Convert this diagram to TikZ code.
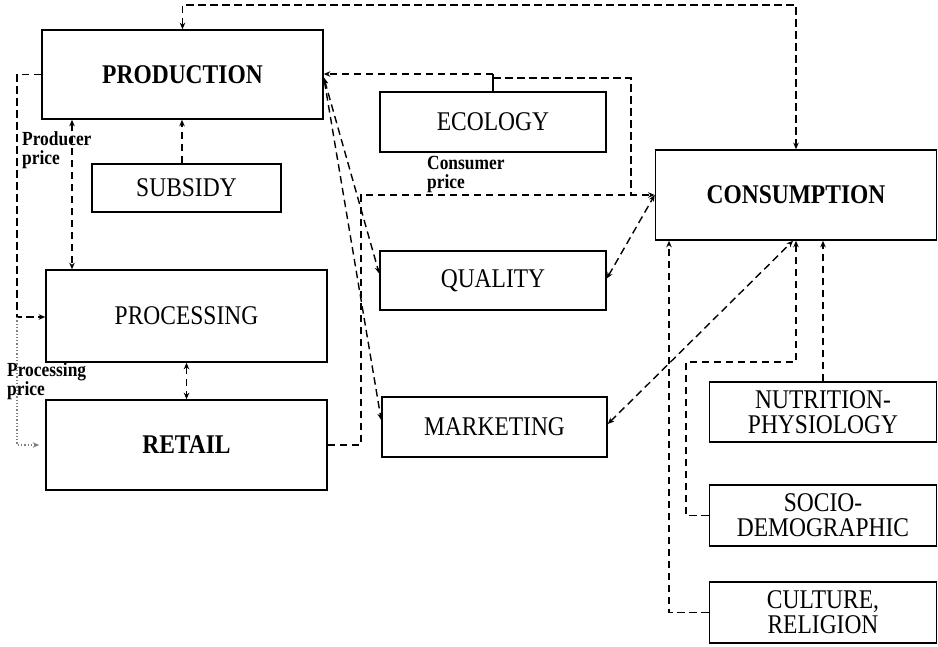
\documentclass[tikz,border=0pt]{standalone}
\usepackage{fontspec}
\setmainfont[FakeStretch=0.87]{Liberation Serif}
\usetikzlibrary{arrows.meta}
\begin{document}
\begin{tikzpicture}[x=1pt,y=-1pt,
  box/.style={draw,line width=1.6pt,inner sep=0pt,align=center,
    font=\fontsize{27}{25}\selectfont},
  bbox/.style={box,font=\fontsize{27}{25}\selectfont\bfseries},
  lbl/.style={inner sep=0pt,align=left,font=\fontsize{20}{19}\selectfont\bfseries},
  dl/.style={line width=1.4pt,dash pattern=on 7.5pt off 4.5pt,
    >={Stealth[length=6.5pt,width=5.5pt]}},
  dt/.style={line width=1.3pt,gray,dotted,>={Stealth[length=6.5pt,width=5.5pt]}}]
\useasboundingbox (0,0) rectangle (938,646);

% boxes
\node[bbox,minimum width=281pt,minimum height=89pt] (prod) at (182.5,74.5) {PRODUCTION};
\node[box,minimum width=189pt,minimum height=48pt] (subsidy) at (186.5,188) {SUBSIDY};
\node[box,minimum width=226pt,minimum height=60pt] (ecology) at (493,122) {ECOLOGY};
\node[bbox,minimum width=281pt,minimum height=90pt] (cons) at (796,195) {CONSUMPTION};
\node[box,minimum width=281pt,minimum height=92pt] (proc) at (186.5,316) {PROCESSING};
\node[bbox,minimum width=281pt,minimum height=90pt] (retail) at (186.5,445) {RETAIL};
\node[box,minimum width=226pt,minimum height=59pt] (quality) at (493,280.5) {QUALITY};
\node[box,minimum width=225pt,minimum height=60pt] (marketing) at (494.5,427) {MARKETING};
\node[box,minimum width=227pt,minimum height=60pt] (nutrition) at (823,412) {NUTRITION-\\PHYSIOLOGY};
\node[box,minimum width=227pt,minimum height=61pt] (socio) at (823,515.5) {SOCIO-\\DEMOGRAPHIC};
\node[box,minimum width=227pt,minimum height=61pt] (culture) at (823,612.5) {CULTURE,\\RELIGION};

% labels
\node[lbl,anchor=north west] (lprod) at (22,131) {Producer\\price};
\node[lbl,anchor=north west] (lcons) at (427,156) {Consumer\\price};
\node[lbl,anchor=north west] (lproc) at (7,362) {Processing\\price};

% helper coordinates
\coordinate (top) at (480,5);
\coordinate (lj) at (17,317);
\coordinate (ppx) at (72,200);
\coordinate (sbx) at (182,150);
\coordinate (et) at (493,74);
\coordinate (er) at (493,78);
\coordinate (ej) at (631,195);
\coordinate (cpx) at (361,195);
\coordinate (sj) at (686,362);
\coordinate (cx) at (669,600);

% production <-> consumption across the top
\draw[dl,<->] (prod.north) |- (top) -| (cons.north);
% production to processing and retail on the left
\draw[dl,->] (prod.west) -| (lj) -- (lj -| proc.west);
\draw[dt,->,shorten >=6pt] (lj) |- (retail.west);
% producer price
\draw[dl,<->] (ppx |- prod.south) -- (ppx |- proc.north);
% subsidy
\draw[dl,->] (sbx |- subsidy.north) -- (sbx |- prod.south);
% ecology
\draw[line width=1.3pt] (ecology.north) -- (et);
\draw[dl,->] (et) -- (et -| prod.east);
\draw[dl] (er) -| (ej);
% consumer price: retail to consumption
\draw[dl,->] (retail.east) -| (cpx) -- (cons.west);
% production <-> quality, marketing
\draw[dl,<->] ([yshift=-3pt]prod.east) -- ([yshift=7pt]quality.west);
\draw[dl,<->] ([yshift=-3pt]prod.east) -- ([yshift=7pt]marketing.west);
% quality, marketing <-> consumption
\draw[dl,<->] ([yshift=2pt]quality.east) -- (cons.west);
\draw[dl,<->] ([yshift=3pt]marketing.east) -- ([xshift=-3pt]cons.south);
% determinants of consumption
\draw[dl,->] (socio.west) -| (sj) -| (cons.south);
\draw[dl,->] (nutrition.north) -- (nutrition.north |- cons.south);
\draw[dl,->] (culture.west) -| (cx |- cons.south);
% processing <-> retail
\draw[dl,<->] (proc.south) -- (retail.north);
\end{tikzpicture}
\end{document}
